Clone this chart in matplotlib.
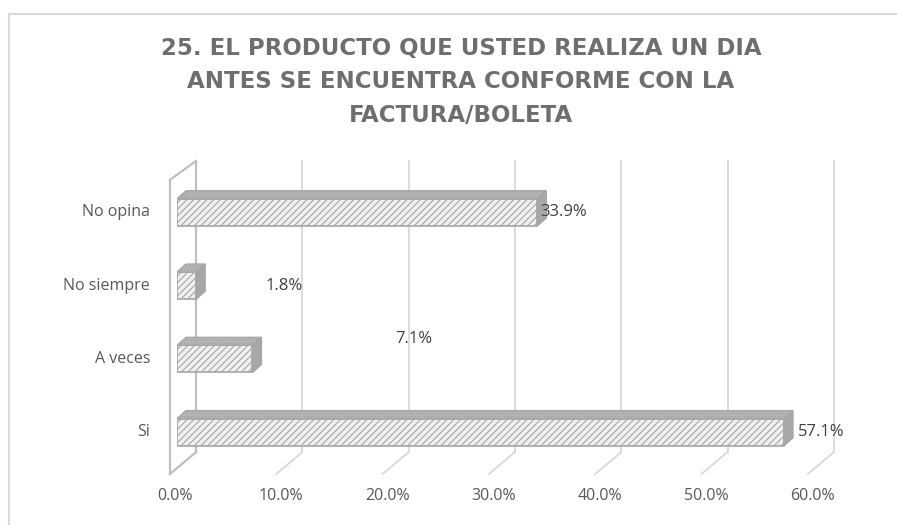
import matplotlib.pyplot as plt
from matplotlib.patches import Polygon, Rectangle
from matplotlib.transforms import ScaledTranslation, blended_transform_factory

categories = ["Si", "A veces", "No siempre", "No opina"]
values = [57.1, 7.1, 1.8, 33.9]
value_labels = ["57.1%", "7.1%", "1.8%", "33.9%"]
ticks = [0, 10, 20, 30, 40, 50, 60]
tick_labels = ["0.0%", "10.0%", "20.0%", "30.0%", "40.0%", "50.0%", "60.0%"]
title_lines = ["25. EL PRODUCTO QUE USTED REALIZA UN DIA",
               "ANTES SE ENCUENTRA CONFORME CON LA",
               "FACTURA/BOLETA"]

W, H = 897, 525
plt.rcParams['font.family'] = ['Open Sans', 'DejaVu Sans']
txt = '#595959'
edge = '#a6a6a6'

fig = plt.figure(figsize=(W / 100, H / 100), dpi=100)
# chart border
fig.patches.append(Rectangle((9 / W, -0.05), 1.0, 1 - 14 / H + 0.05, transform=fig.transFigure,
                             fill=False, edgecolor='#d9d9d9', linewidth=1.5))

ax = fig.add_axes([177 / W, (H - 474) / H, 637.8 / W, (474 - 161) / H])
ax.set_xlim(0, 60)
ax.set_ylim(-0.57, 3.70)
ax.axis('off')


def shift(tr, dx, dy):
    return tr + ScaledTranslation(dx / 100, dy / 100, fig.dpi_scale_trans)


bt = blended_transform_factory(ax.transData, ax.transAxes)
back_dx, front_dx = 19, -7
y_back_bot, y_front_top = 0.07, 0.94
gc = '#d9d9d9'
for t in ticks[1:]:
    ax.plot([t, t], [y_back_bot, 1.0], transform=shift(bt, back_dx, 0), color=gc, lw=1.3, clip_on=False)
    ax.plot([t + back_dx / 10.63, t + front_dx / 10.63], [y_back_bot, 0.0], transform=bt,
            color=gc, lw=1.3, clip_on=False)
# left wall
wc = '#bfbfbf'
ax.plot([0, 0], [y_back_bot, 1.0], transform=shift(bt, back_dx, 0), color=wc, lw=1.6, clip_on=False)
ax.plot([0, 0], [0.0, y_front_top], transform=shift(bt, front_dx, 0), color=wc, lw=1.6, clip_on=False)
ax.plot([front_dx / 10.63, back_dx / 10.63], [y_front_top, 1.0], transform=bt, color=wc, lw=1.6, clip_on=False)
ax.plot([front_dx / 10.63, back_dx / 10.63], [0.0, y_back_bot], transform=bt, color=wc, lw=1.6, clip_on=False)

# bars with pseudo 3D faces
h = 0.37
ypos = list(range(len(categories)))
plt.rcParams['hatch.color'] = '#a0a0a0'
plt.rcParams['hatch.linewidth'] = 0.8
ax.barh(ypos, values, height=h, color='#f0f0f0', edgecolor=edge, hatch='/////', linewidth=1.2, zorder=3)

px_x = ax.transData.transform((1, 0))[0] - ax.transData.transform((0, 0))[0]
px_y = ax.transData.transform((0, 1))[1] - ax.transData.transform((0, 0))[1]
ddx, ddy = 9 / px_x, 8 / px_y
for y, v in zip(ypos, values):
    top = y + h / 2
    bot = y - h / 2
    ax.add_patch(Polygon([(0, top), (v, top), (v + ddx, top + ddy), (ddx, top + ddy)],
                         closed=True, facecolor='#b5b5b5', edgecolor=edge, hatch='.....',
                         linewidth=1.0, zorder=3))
    ax.add_patch(Polygon([(v, bot), (v, top), (v + ddx, top + ddy), (v + ddx, bot + ddy)],
                         closed=True, facecolor='#a8a8a8', edgecolor=edge, hatch='\\\\\\\\',
                         linewidth=1.0, zorder=3))

# data labels (positions as placed in the source chart)
label_offsets = [(14, 0), (143, 20), (69, 0), (3, 0)]
for y, v, lab, (ox, oy) in zip(ypos, values, value_labels, label_offsets):
    ax.annotate(lab, (v, y), xytext=(ox * 0.72, oy * 0.72), textcoords='offset points',
                ha='left', va='center', fontsize=12, color='#404040', zorder=5)

# category labels
for y, c in zip(ypos, categories):
    ax.text(0, y, c, transform=shift(ax.transData, -27, 0), ha='right', va='center',
            fontsize=11.5, color=txt)

# tick labels
for t, lab in zip(ticks, tick_labels):
    ax.text(t, 0.0, lab, transform=shift(bt, front_dx + 5, -22), ha='center', va='center',
            fontsize=11.5, color=txt)

# title, one line at a time in a wide face to approach the tracked lettering
for i, line in enumerate(title_lines):
    fig.text(461 / W, (H - 48 - 33.5 * i) / H, line, ha='center', va='center',
             fontsize=16.5, fontweight='bold', family='DejaVu Sans', color='#6e6e6e')

fig.savefig('out.png', dpi=100)
